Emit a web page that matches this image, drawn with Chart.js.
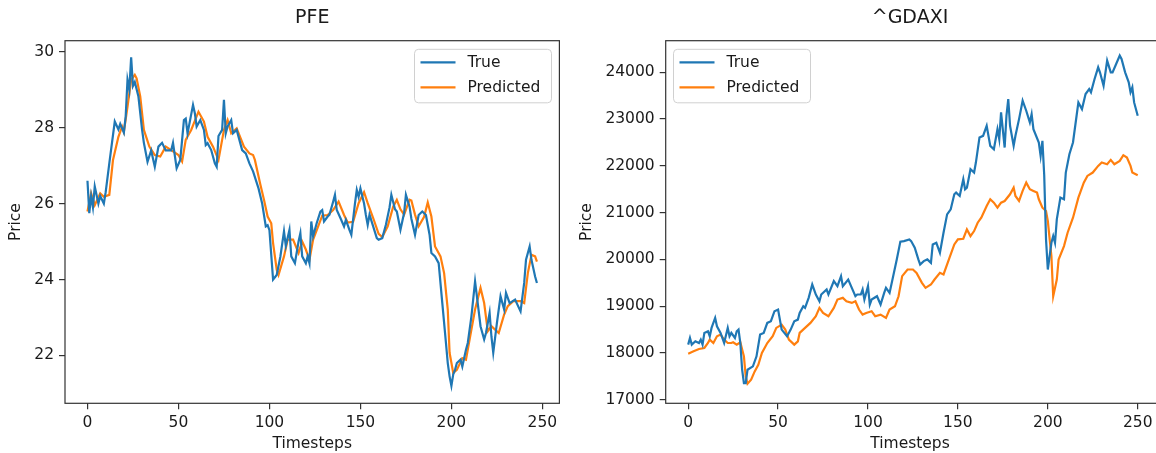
<!DOCTYPE html>
<html>
<head>
<meta charset="UTF-8">
<title>PFE / ^GDAXI</title>
<script src="https://cdn.jsdelivr.net/npm/chart.js"></script>
<style>
  html, body { margin: 0; padding: 0; background: #fff; overflow: hidden; }
  body { width: 1156px; height: 453px; position: relative; }
  .box { position: absolute; top: 0; height: 453px; }
  #leftBox { left: 0; width: 578px; }
  #rightBox { left: 578px; width: 600px; }
</style>
</head>
<body>
<div class="box" id="leftBox"><canvas id="pfeChart" width="578" height="453"></canvas></div>
<div class="box" id="rightBox"><canvas id="daxChart" width="600" height="453"></canvas></div>

<script>
// PFE - timesteps and prices
const pfeTrueX = [0,1,2,3,4,6,7,9,10,12,15,17,18,20,21,22,23,24,25,26,28,30,31,33,35,37,39,41,43,46,47,49,51,53,54,55,58,59,60,62,64,65,66,68,70,71,72,74,75,76,77,79,80,82,85,87,89,91,94,96,98,99,100,102,104,106,108,109,111,112,114,116,117,118,120,121,122,123,124,126,128,129,130,132,133,135,136,137,139,141,142,144,145,147,148,149,150,152,153,154,155,157,159,160,162,164,166,167,169,170,172,174,175,177,178,180,182,184,186,188,189,191,193,195,197,198,199,200,201,202,203,205,206,208,209,211,213,214,216,218,219,221,222,223,225,227,229,230,232,235,238,240,241,243,244,246,247];
const pfeTrueY = [26.6,25.75,26.2,25.9,26.45,26.0,26.2,26.0,26.3,27.06,28.16,27.95,28.1,27.87,28.3,29.26,29.0,29.85,29.1,29.2,28.82,27.95,27.6,27.1,27.4,26.97,27.5,27.6,27.4,27.4,27.6,26.93,27.15,28.2,28.24,27.85,28.6,28.38,28.03,28.2,27.94,27.54,27.59,27.41,27.06,26.97,27.78,27.94,28.73,27.85,28.03,28.2,27.85,27.94,27.41,27.32,27.06,26.85,26.4,26.0,25.4,25.43,25.3,24.0,24.12,24.6,25.27,24.88,25.31,24.61,24.43,25.0,25.22,24.61,24.43,24.61,24.43,25.53,25.14,25.49,25.79,25.83,25.53,25.66,25.71,26.05,26.23,25.83,25.62,25.4,25.57,25.3,25.18,26.0,26.36,26.18,26.4,26.0,25.7,25.44,25.71,25.4,25.09,25.05,25.09,25.44,25.9,26.23,25.85,25.79,25.31,25.75,26.23,25.92,25.6,25.18,25.7,25.79,25.7,25.18,24.7,24.61,24.43,23.38,22.33,21.8,21.45,21.2,21.5,21.62,21.8,21.89,21.71,22.15,22.33,23.03,23.95,23.56,22.77,22.42,22.59,23.12,22.5,22.07,22.85,23.56,23.21,23.65,23.38,23.47,23.16,23.91,24.52,24.87,24.52,24.08,23.91];
const pfePredX = [0,2,4,7,9,12,14,17,19,20,22,24,26,27,29,31,34,37,40,43,46,50,52,54,57,61,64,66,69,72,75,77,79,82,86,89,91,92,95,97,99,101,102,104,105,108,110,113,116,118,120,122,124,126,129,132,135,138,141,143,146,149,152,154,157,160,162,165,168,170,172,174,177,178,180,182,185,187,189,191,194,196,198,199,201,203,206,208,210,213,216,218,220,222,226,229,231,234,238,240,242,244,246,247];
const pfePredY = [25.79,26.27,25.96,26.27,26.18,26.23,27.14,27.76,28.03,27.89,28.55,29.26,29.39,29.3,28.82,27.94,27.5,27.28,27.24,27.5,27.41,27.28,27.11,27.68,27.94,28.42,28.16,27.76,27.5,27.15,27.94,28.2,27.85,27.98,27.5,27.32,27.28,27.15,26.5,26.1,25.66,25.48,24.96,24.26,24.12,24.61,25.05,25.05,24.7,25.0,24.79,24.52,25.05,25.3,25.68,25.7,25.83,26.05,25.7,25.5,25.52,26.01,26.3,26.01,25.62,25.2,25.12,25.4,25.92,26.1,25.85,25.71,26.1,26.08,25.71,25.4,25.65,26.03,25.66,24.87,24.61,24.17,23.21,22.07,21.54,21.62,21.93,21.89,22.42,23.21,23.78,23.38,22.64,22.77,22.59,23.08,23.3,23.43,23.43,23.38,24.17,24.65,24.61,24.47];
const pfeYTicks = [22, 24, 26, 28, 30];

// ^GDAXI
const daxTrueX = [0,1,2,4,6,7,8,9,11,12,13,15,16,18,20,22,23,24,26,27,28,29,30,31,32,33,36,38,40,42,44,46,48,50,52,55,57,59,61,62,64,65,67,69,71,73,74,77,78,81,83,85,86,89,91,93,94,96,97,98,100,101,102,105,107,109,110,112,114,116,118,120,123,124,126,128,129,131,133,135,136,138,140,142,144,146,148,149,151,153,154,155,157,159,160,162,164,166,168,170,172,173,174,176,177,178,179,181,182,184,186,188,190,191,192,195,196,197,198,199,200,202,203,204,205,207,209,210,212,214,216,217,219,221,223,224,226,228,229,231,233,235,236,238,240,241,243,245,246,247,248,250];
const daxTrueY = [18179,18321,18179,18250,18214,18286,18179,18429,18464,18357,18536,18750,18571,18429,18214,18536,18357,18429,18321,18464,18500,18214,17643,17357,17357,17643,17714,17929,18393,18429,18643,18679,18893,18929,18500,18357,18500,18679,18714,18857,19000,18964,19179,19464,19250,19107,19250,19357,19250,19536,19429,19643,19429,19571,19393,19214,19250,19250,19357,19143,19429,19036,19143,19214,19036,19285,19392,19285,19642,20000,20380,20392,20428,20392,20249,20000,19892,19964,20000,19928,20320,20356,20142,20571,20964,21071,21392,21428,21357,21714,21500,21535,21928,21857,22071,22607,22642,22856,22428,22356,22785,22571,23142,22392,23071,23428,22856,22428,22642,22999,23392,23178,22928,23106,22785,22499,22214,22535,21800,20428,19785,20356,20499,20356,20856,21321,21285,21857,22249,22499,23071,23356,23213,23535,23642,23571,23856,24106,23999,23713,24249,23999,23999,24178,24356,24285,23999,23785,23571,23678,23356,23071];
const daxPredX = [0,3,6,9,11,12,14,16,18,20,22,24,25,27,29,31,32,33,35,37,39,41,44,47,49,52,54,56,59,61,62,65,68,71,73,75,78,81,83,86,88,91,93,95,97,99,102,104,107,110,112,115,117,119,122,125,127,130,132,135,137,140,142,145,148,150,153,155,157,159,161,163,166,168,170,172,174,176,179,181,182,184,186,188,190,192,194,195,197,199,200,202,203,205,206,209,211,214,217,220,222,225,228,230,233,235,237,240,242,244,246,247,250];
const daxPredY = [17986,18036,18086,18107,18214,18286,18214,18357,18393,18286,18214,18214,18229,18179,18229,17929,17500,17343,17429,17607,17750,18000,18214,18357,18536,18607,18500,18286,18179,18250,18429,18536,18643,18786,18964,18857,18786,18964,19143,19179,19107,19071,19107,18929,18821,18857,18893,18786,18821,18749,18928,18999,19213,19642,19785,19785,19713,19499,19392,19463,19571,19713,19678,19999,20320,20428,20442,20642,20499,20606,20785,20892,21142,21285,21214,21106,21214,21249,21392,21535,21357,21249,21464,21642,21500,21464,21428,21285,21106,21035,20821,20071,19213,19571,19999,20285,20571,20892,21321,21642,21785,21857,21999,22071,22035,22128,22035,22106,22228,22178,21999,21857,21799];
const daxYTicks = [17000, 18000, 19000, 20000, 21000, 22000, 23000, 24000];

const xTicks = [0, 50, 100, 150, 200, 250];
const seriesNames = ['True', 'Predicted'];
const seriesColors = ['#1f77b4', '#ff7f0e'];

const FONT = '"DejaVu Sans", sans-serif';
const TXT = '#1a1a1a';

function pts(xs, ys) {
  return xs.map((x, i) => ({ x: x, y: ys[i] }));
}

// titles, frame, axis labels and the legend box, matplotlib style
const decorPlugin = {
  id: 'decor',
  afterDraw(chart, args, opts) {
    const ctx = chart.ctx;
    const a = chart.chartArea;
    ctx.save();
    // frame
    ctx.strokeStyle = '#333';
    ctx.lineWidth = 1.2;
    ctx.strokeRect(a.left, a.top, a.right - a.left, a.bottom - a.top);

    const cx = opts.titleX !== undefined ? opts.titleX : (a.left + a.right) / 2;
    ctx.fillStyle = TXT;
    ctx.textAlign = 'center';
    ctx.textBaseline = 'middle';
    ctx.font = '19px ' + FONT;
    ctx.fillText(opts.title, cx, 18);

    ctx.font = '15.5px ' + FONT;
    ctx.fillText('Timesteps', cx, 444);

    ctx.save();
    ctx.translate(opts.priceX, (a.top + a.bottom) / 2);
    ctx.rotate(-Math.PI / 2);
    ctx.fillText('Price', 0, 0);
    ctx.restore();

    // legend
    const lx = opts.legendX, ly = 49.3, lw = 137, lh = 53.5, r = 4;
    ctx.fillStyle = 'rgba(255,255,255,0.8)';
    ctx.strokeStyle = '#d0d0d0';
    ctx.lineWidth = 1;
    ctx.beginPath();
    ctx.moveTo(lx + r, ly);
    ctx.arcTo(lx + lw, ly, lx + lw, ly + lh, r);
    ctx.arcTo(lx + lw, ly + lh, lx, ly + lh, r);
    ctx.arcTo(lx, ly + lh, lx, ly, r);
    ctx.arcTo(lx, ly, lx + lw, ly, r);
    ctx.closePath();
    ctx.fill();
    ctx.stroke();

    ctx.textAlign = 'left';
    ctx.font = '15.5px ' + FONT;
    seriesNames.forEach((name, i) => {
      const yy = ly + 13 + i * 25;
      ctx.strokeStyle = seriesColors[i];
      ctx.lineWidth = 2.2;
      ctx.beginPath();
      ctx.moveTo(lx + 6, yy);
      ctx.lineTo(lx + 41, yy);
      ctx.stroke();
      ctx.fillStyle = TXT;
      ctx.fillText(name, lx + 53, yy + 1);
    });
    ctx.restore();
  }
};

function makeChart(id, trueData, predData, cfg) {
  const tickFont = { family: FONT, size: 15.5 };
  return new Chart(document.getElementById(id), {
    type: 'line',
    data: {
      datasets: [
        { label: seriesNames[0], data: trueData, borderColor: seriesColors[0], borderWidth: 2.2, pointRadius: 0, tension: 0 },
        { label: seriesNames[1], data: predData, borderColor: seriesColors[1], borderWidth: 2.2, pointRadius: 0, tension: 0 }
      ]
    },
    options: {
      responsive: false,
      animation: false,
      events: [],
      layout: { padding: { top: 40.7, left: 0, right: cfg.padRight, bottom: 0 } },
      plugins: {
        legend: { display: false },
        title: { display: false },
        tooltip: { enabled: false },
        decor: cfg.decor
      },
      scales: {
        x: {
          type: 'linear',
          min: cfg.xMin, max: cfg.xMax,
          border: { display: false },
          grid: { drawOnChartArea: false, drawTicks: true, tickLength: 6, color: '#333', lineWidth: 1.2 },
          ticks: { autoSkip: false, maxRotation: 0, color: TXT, font: tickFont, padding: 4,
                   callback: v => String(v) },
          afterBuildTicks: s => { s.ticks = xTicks.map(v => ({ value: v })); },
          afterFit: s => { s.height = 453 - 403.3; }
        },
        y: {
          type: 'linear',
          min: cfg.yMin, max: cfg.yMax,
          border: { display: false },
          grid: { drawOnChartArea: false, drawTicks: true, tickLength: 6, color: '#333', lineWidth: 1.2 },
          ticks: { autoSkip: false, color: TXT, font: tickFont, padding: 5,
                   callback: v => String(v) },
          afterBuildTicks: s => { s.ticks = cfg.yTicks.map(v => ({ value: v })); },
          afterFit: s => { s.width = cfg.yWidth; }
        }
      }
    },
    plugins: [decorPlugin]
  });
}

makeChart('pfeChart', pts(pfeTrueX, pfeTrueY), pts(pfePredX, pfePredY), {
  xMin: -12.35, xMax: 259.35, yMin: 20.74, yMax: 30.29, yTicks: pfeYTicks,
  yWidth: 65, padRight: 578 - 559.4,
  decor: { title: 'PFE', priceX: 16, legendX: 414.5 }
});

makeChart('daxChart', pts(daxTrueX, daxTrueY), pts(daxPredX, daxPredY), {
  xMin: -12.5, xMax: 262.5, yMin: 16925, yMax: 24675, yTicks: daxYTicks,
  yWidth: 87.7, padRight: 600 - 582.2,
  decor: { title: '^GDAXI', priceX: 587 - 578, legendX: 673.5 - 578, titleX: 910 - 578 }
});
</script>
</body>
</html>
